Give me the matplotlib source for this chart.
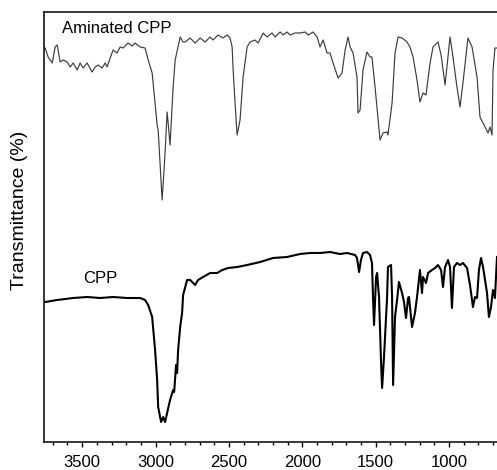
import matplotlib
matplotlib.use("Agg")
import matplotlib.pyplot as plt
from matplotlib.ticker import MultipleLocator

plt.rcParams['font.family'] = ['Liberation Sans', 'DejaVu Sans']

# Aminated CPP (upper trace): wavenumber (cm-1) and transmittance (arbitrary units)
aminated_wn = [3752, 3732, 3704, 3684, 3670, 3650, 3629, 3602, 3582, 3561, 3534, 3514,
               3493, 3466, 3432, 3411, 3391, 3364, 3343, 3330, 3309, 3289, 3262, 3241,
               3221, 3187, 3159, 3139, 3105, 3071, 3050, 3023, 3003, 2989, 2982, 2955,
               2935, 2921, 2914, 2901, 2880, 2866, 2832, 2812, 2798, 2764, 2730, 2696,
               2662, 2628, 2608, 2574, 2540, 2512, 2492, 2478, 2471, 2458, 2444, 2424,
               2403, 2376, 2356, 2322, 2301, 2267, 2240, 2206, 2185, 2151, 2131, 2104,
               2083, 2049, 2015, 1981, 1960, 1926, 1899, 1879, 1858, 1831, 1811, 1790,
               1756, 1729, 1708, 1688, 1674, 1654, 1627, 1620, 1606, 1586, 1559, 1538,
               1525, 1504, 1470, 1450, 1422, 1416, 1388, 1368, 1347, 1320, 1286, 1266,
               1245, 1218, 1198, 1177, 1157, 1129, 1109, 1082, 1075, 1054, 1027, 993,
               973, 946, 925, 905, 871, 843, 809, 789, 755, 734, 721, 707, 700, 687, 673]
aminated_t = [394, 385, 379, 395, 397, 380, 382, 380, 375, 379, 372, 379,
              374, 379, 370, 375, 377, 374, 379, 375, 384, 392, 389, 395,
              394, 399, 396, 399, 395, 394, 382, 369, 339, 317, 312, 242,
              289, 330, 319, 297, 355, 382, 405, 400, 400, 404, 399, 404,
              400, 405, 402, 407, 404, 407, 404, 395, 372, 339, 307, 322,
              365, 395, 400, 402, 399, 409, 405, 409, 405, 410, 407, 410,
              407, 409, 409, 410, 407, 410, 405, 395, 402, 389, 389, 379,
              364, 369, 392, 405, 395, 389, 365, 329, 332, 372, 390, 385,
              385, 355, 302, 309, 310, 307, 339, 389, 405, 404, 400, 395,
              385, 362, 340, 349, 347, 379, 395, 399, 400, 387, 357, 405,
              385, 355, 335, 359, 404, 395, 365, 325, 315, 309, 315, 307, 372, 394, 394]

# CPP (lower trace)
cpp_wn = [3752, 3670, 3561, 3466, 3377, 3289, 3193, 3105, 3071, 3050, 3023, 3003,
          2989, 2982, 2962, 2948, 2935, 2921, 2901, 2880, 2873, 2860, 2853, 2846,
          2832, 2819, 2812, 2785, 2764, 2730, 2710, 2676, 2628, 2580, 2546, 2505,
          2444, 2376, 2287, 2199, 2104, 2015, 1947, 1879, 1811, 1743, 1695, 1640,
          1627, 1613, 1600, 1586, 1559, 1538, 1525, 1518, 1511, 1497, 1490, 1477,
          1463, 1456, 1443, 1422, 1416, 1395, 1388, 1381, 1368, 1354, 1341, 1320,
          1307, 1293, 1279, 1273, 1252, 1232, 1218, 1198, 1184, 1177, 1157, 1143,
          1116, 1095, 1075, 1054, 1041, 1027, 1007, 993, 980, 966, 946, 925,
          905, 877, 857, 837, 823, 809, 796, 782, 768, 741, 728, 714, 700, 687, 673]
cpp_t = [140, 142, 144, 145, 144, 145, 144, 144, 142, 137, 125, 92,
         62, 35, 20, 25, 20, 29, 42, 52, 50, 77, 69, 92,
         115, 129, 147, 162, 162, 157, 162, 165, 169, 169, 172, 174,
         175, 177, 180, 184, 185, 188, 189, 189, 190, 188, 189, 187,
         184, 170, 182, 189, 190, 187, 179, 145, 117, 165, 169, 145,
         79, 54, 85, 145, 175, 177, 145, 57, 125, 142, 160, 149,
         140, 124, 144, 145, 115, 129, 145, 172, 149, 165, 159, 169,
         172, 174, 177, 172, 155, 175, 182, 175, 134, 175, 179, 177,
         179, 174, 157, 135, 145, 144, 172, 184, 175, 149, 125, 135, 152, 144, 185]

series_labels = ["Aminated CPP", "CPP"]
x_ticks = [3500, 3000, 2500, 2000, 1500, 1000]
y_label = "Transmittance (%)"

W, H = 497, 470
fig = plt.figure(figsize=(W / 100, H / 100), dpi=100)
ax = fig.add_axes([44 / W, (H - 442) / H, (W - 44) / W, 430 / H])

ax.plot(aminated_wn, aminated_t, color='#3c3c3c', lw=0.85, solid_joinstyle='round')
ax.plot(cpp_wn, cpp_t, color='black', lw=1.5, solid_joinstyle='round')

ax.set_xlim(3760, 673)
ax.set_ylim(0, 430)

ax.text(3636, 409, series_labels[0], fontsize=12, ha='left', va='baseline')
ax.text(3493, 159, series_labels[1], fontsize=12, ha='left', va='baseline')

ax.set_xticks(x_ticks)
ax.set_xticklabels([str(t) for t in x_ticks])
ax.xaxis.set_minor_locator(MultipleLocator(100))
ax.set_yticks([])
ax.tick_params(axis='x', which='major', direction='out', length=3.5, width=1.0,
               labelsize=12, pad=6)
ax.tick_params(axis='x', which='minor', direction='out', length=2.2, width=1.0)

for side in ['left', 'bottom', 'top']:
    ax.spines[side].set_linewidth(1.1)
ax.spines['right'].set_visible(False)

fig.text(20 / W, 1 - 210 / H, y_label, rotation=90, fontsize=14,
         ha='center', va='center')

fig.savefig("out.png", dpi=100)
